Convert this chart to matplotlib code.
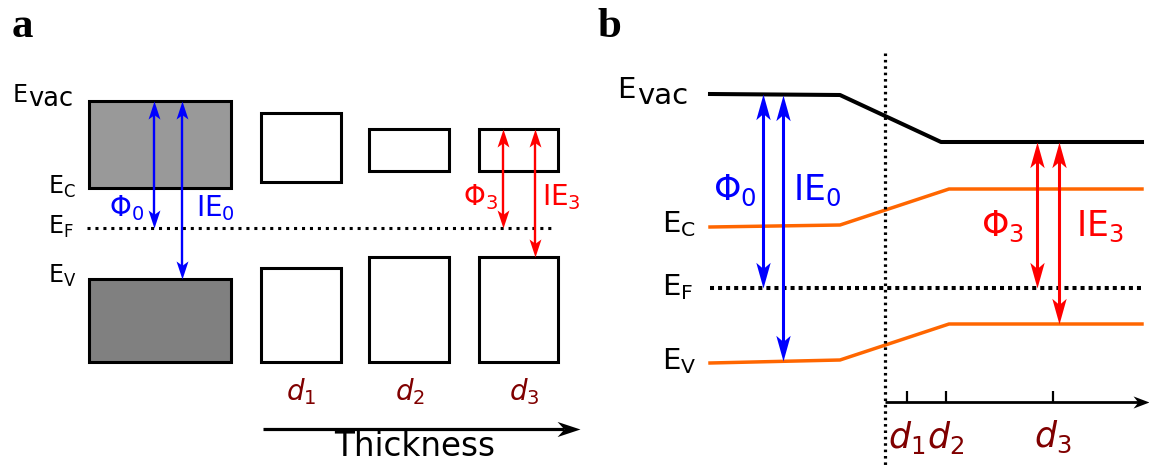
import numpy as np
import matplotlib
matplotlib.use("Agg")
import matplotlib.pyplot as plt
from matplotlib.path import Path
from matplotlib.transforms import Affine2D

# --- panel a: flat-band picture for bulk and three thicknesses (eV, E_F = 0)
a_names = ["bulk", "d1", "d2", "d3"]
a_evac = [5.1, 4.6, 3.95, 3.95]
a_ec = [1.6, 1.85, 2.3, 2.3]
a_ev = [-2.05, -1.6, -1.15, -1.15]
a_floor = -5.35
e_f = 0.0

# --- panel b: band bending along thickness (x in 0.1 nm-ish units, eV)
b_x_vac = [-17.5, -4.5, 5.6, 25.7]
b_evac = [7.76, 7.72, 5.84, 5.84]
b_x_band = [-17.5, -4.5, 6.4, 25.7]
b_ec = [2.44, 2.52, 3.96, 3.96]
b_ev = [-3.0, -2.88, -1.44, -1.44]
b_ticks = [2.2, 6.1, 16.8]
d_labels = [r"$d_1$", r"$d_2$", r"$d_3$"]

BLUE = "#0000ff"
RED = "#ff0000"
ORANGE = "#ff6600"
DARKRED = "#800000"


def head(angle, w=0.3, notch=0.76):
    # concave arrow head, tip at the origin
    v = np.array([[0, 0], [-1, w], [-notch, 0], [-1, -w], [0, 0]])
    v = Affine2D().rotate_deg(angle).transform(v)
    return Path(v, [Path.MOVETO, Path.LINETO, Path.LINETO, Path.LINETO, Path.CLOSEPOLY])


def v_arrow(ax, x, y_top, y_bot, color, lw, ms, trim, w=0.3):
    ax.plot([x, x], [y_top - trim, y_bot + trim], color=color, lw=lw, solid_capstyle="butt")
    ax.plot([x], [y_top], marker=head(90, w), ms=ms, color=color, mew=0)
    ax.plot([x], [y_bot], marker=head(-90, w), ms=ms, color=color, mew=0)


def h_arrow(ax, x0, x1, y, lw, ms, trim):
    ax.plot([x0, x1 - trim], [y, y], color="k", lw=lw, solid_capstyle="butt")
    ax.plot([x1], [y], marker=head(0, w=0.33, notch=0.7), ms=ms, color="k", mew=0)


fig = plt.figure(figsize=(11.49, 4.66), dpi=100)

# ================= panel a =================
ax = fig.add_axes([0, 0, 600 / 1149, 1])
ax.set_xlim(0, 600)
ax.set_ylim((228 - 466) / 25, 228 / 25)
ax.axis("off")

col_x = [159.5, 300.5, 408.5, 518]
col_w = [142, 80, 80, 79]
top_fc = ["#999999", "white", "white", "white"]
bot_fc = ["#808080", "white", "white", "white"]
evac = np.array(a_evac)
ec = np.array(a_ec)
ev = np.array(a_ev)
ax.bar(col_x, evac - ec, bottom=ec, width=col_w, color=top_fc, edgecolor="k", linewidth=2.2, zorder=1)
ax.bar(col_x, ev - a_floor, bottom=a_floor, width=col_w, color=bot_fc, edgecolor="k", linewidth=2.2, zorder=1)

ax.plot([87, 551], [e_f, e_f], color="k", lw=2.2, linestyle=(0, (1, 1.6)))

v_arrow(ax, 154, a_evac[0], e_f, BLUE, 1.7, 26, 0.45, w=0.33)
v_arrow(ax, 182, a_evac[0], a_ev[0], BLUE, 1.7, 26, 0.45, w=0.33)
v_arrow(ax, 503, a_evac[3], e_f, RED, 1.7, 26, 0.45, w=0.33)
v_arrow(ax, 535, a_evac[3], a_ev[3], RED, 1.7, 26, 0.45, w=0.33)

ax.text(127, 0.8, r"$\Phi_0$", color=BLUE, fontsize=20, ha="center", va="center")
ax.text(215, 0.8, r"IE$_0$", color=BLUE, fontsize=20, ha="center", va="center")
ax.text(480, 1.24, r"$\Phi_3$", color=RED, fontsize=20, ha="center", va="center")
ax.text(561, 1.24, r"IE$_3$", color=RED, fontsize=20, ha="center", va="center")

ax.text(13, 5.04, "E", fontsize=17, va="baseline")
ax.text(28.2, 4.88, "vac", fontsize=18.5, va="baseline")
ax.text(48, 1.36, r"E$_\mathregular{C}$", fontsize=17, va="baseline")
ax.text(48, -0.22, r"E$_\mathregular{F}$", fontsize=17, va="baseline")
ax.text(48, -2.18, r"E$_\mathregular{V}$", fontsize=17, va="baseline")

for x, lab in zip([301, 410, 524], d_labels):
    ax.text(x, -6.56, lab, color=DARKRED, fontsize=20, ha="center", va="center")

h_arrow(ax, 263, 580, -8.04, 2.3, 33, 16)
ax.text(415, -8.76, "Thickness", fontsize=23.5, ha="center", va="center")

fig.text(12 / 1149, 1 - 37 / 466, "a", fontsize=31, fontweight="bold",
         family="Liberation Serif", va="baseline")

# ================= panel b =================
bx = fig.add_axes([600 / 1149, 0, 549 / 1149, 1])
bx.set_xlim(-28.5, 26.4)
bx.set_ylim((288 - 466) / 25, 288 / 25)
bx.axis("off")

bx.plot(b_x_vac, b_evac, color="k", lw=2.9)
bx.plot(b_x_band, b_ec, color=ORANGE, lw=2.5)
bx.plot(b_x_band, b_ev, color=ORANGE, lw=2.5)
bx.plot([b_x_band[0], b_x_band[-1]], [e_f, e_f], color="k", lw=2.9, linestyle=(0, (1, 1)))

# interface
bx.plot([0, 0], [9.4, -7.5], color="k", lw=2.3, linestyle=(0, (0.8, 1.2)))

# thickness axis
bx.plot([0, 26.4 - 1.0], [-4.56, -4.56], color="k", lw=2.0, solid_capstyle="butt")
bx.plot([26.4], [-4.56], marker=head(0, w=0.38, notch=0.7), ms=23, color="k", mew=0)
bx.vlines(b_ticks, -4.56, -4.12, color="k", lw=1.6)
for x, lab in zip(b_ticks, d_labels):
    bx.text(x, -5.96, lab, color=DARKRED, fontsize=25, ha="center", va="center")

for x, color, bottom in [(-12.2, BLUE, "f"), (-10.2, BLUE, "v"), (15.2, RED, "f"), (17.4, RED, "v")]:
    top = np.interp(x, b_x_vac, b_evac)
    bot = e_f if bottom == "f" else np.interp(x, b_x_band, b_ev)
    v_arrow(bx, x, top, bot, color, 2.2, 37, 0.7, w=0.28)

bx.text(-15.0, 3.92, r"$\Phi_0$", color=BLUE, fontsize=25, ha="center", va="center")
bx.text(-6.8, 3.92, r"IE$_0$", color=BLUE, fontsize=25, ha="center", va="center")
bx.text(11.8, 2.48, r"$\Phi_3$", color=RED, fontsize=25, ha="center", va="center")
bx.text(21.5, 2.48, r"IE$_3$", color=RED, fontsize=25, ha="center", va="center")

bx.text(-26.8, 7.6, "E", fontsize=21, va="baseline")
bx.text(-24.8, 7.36, "vac", fontsize=21, va="baseline")
bx.text(-22.3, 2.24, r"E$_\mathregular{C}$", fontsize=21, va="baseline")
bx.text(-22.3, -0.3, r"E$_\mathregular{F}$", fontsize=21, va="baseline")
bx.text(-22.3, -3.24, r"E$_\mathregular{V}$", fontsize=21, va="baseline")

fig.text(598 / 1149, 1 - 37 / 466, "b", fontsize=31, fontweight="bold",
         family="Liberation Serif", va="baseline")

fig.savefig("out.png", dpi=100)
